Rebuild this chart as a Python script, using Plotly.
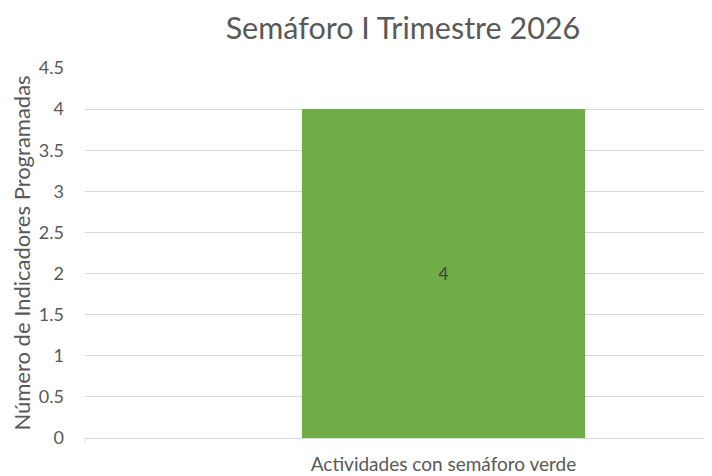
import plotly.graph_objects as go

categories = ["Actividades con semáforo verde"]
values = [4]
y_ticks = [0, 0.5, 1, 1.5, 2, 2.5, 3, 3.5, 4, 4.5]
y_tick_labels = ["0", "0.5", "1", "1.5", "2", "2.5", "3", "3.5", "4", "4.5"]

FONT = "Lato"
GRAY = "#595959"

fig = go.Figure(go.Bar(
    x=[0],
    y=values,
    width=0.395,
    marker=dict(color="#70AD47", line=dict(width=0)),
    text=[str(v) for v in values],
    textposition="inside",
    insidetextanchor="middle",
    textfont=dict(family=FONT, size=17, color="#404040"),
    hoverinfo="skip",
))

fig.update_layout(
    width=704, height=468,
    margin=dict(l=77, r=0, t=60, b=38),
    paper_bgcolor="white", plot_bgcolor="white",
    showlegend=False,
    title=dict(text="Semáforo I Trimestre 2026", x=0.561, xref="container",
               xanchor="center", y=0.957, yref="container", yanchor="middle",
               font=dict(family=FONT, size=30.5, color=GRAY)),
    xaxis=dict(range=[-0.5, 0.3745], tickmode="array", tickvals=[0],
               ticktext=categories, showgrid=False, zeroline=False,
               showline=True, linecolor="#D9D9D9", linewidth=1,
               ticks="", ticklabelstandoff=9, automargin=False,
               tickfont=dict(family=FONT, size=19, color=GRAY),
               fixedrange=True),
    yaxis=dict(range=[0, 4.5], tickmode="array", tickvals=y_ticks,
               ticktext=y_tick_labels, showgrid=True, gridcolor="#D9D9D9",
               gridwidth=1, zeroline=False, showline=False, ticks="",
               ticklabelstandoff=20, automargin=False,
               tickfont=dict(family=FONT, size=18, color=GRAY),
               title=dict(text="Número de Indicadores Programadas", standoff=6,
                          font=dict(family=FONT, size=22, color=GRAY)),
               fixedrange=True),
    shapes=[dict(type="line", xref="paper", yref="paper", x0=0, x1=0,
                 y0=0, y1=-0.013, line=dict(color="#D9D9D9", width=1))],
)

fig.write_html("out.html")
